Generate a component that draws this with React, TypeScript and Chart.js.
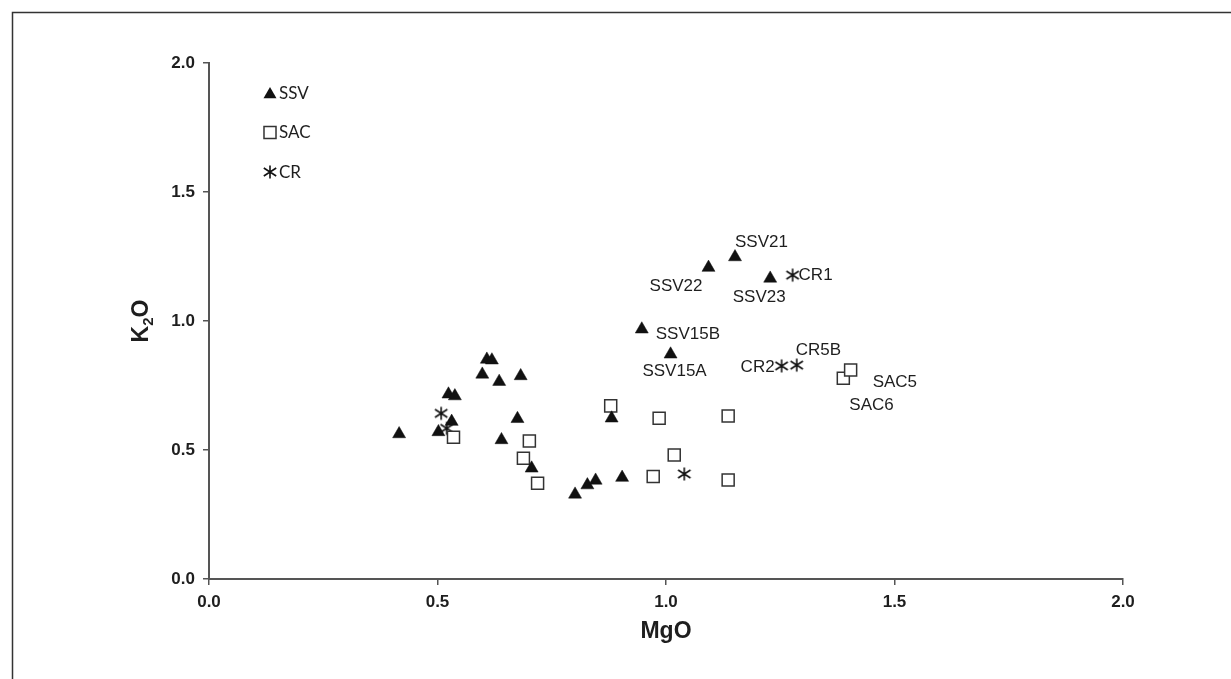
import React, { useEffect, useRef } from 'react';
import { Chart, registerables } from 'chart.js';

Chart.register(...registerables);

// ---------- data ----------
const xTickValues = [0, 0.5, 1.0, 1.5, 2.0];
const yTickValues = [0, 0.5, 1.0, 1.5, 2.0];
const seriesNames = ['SSV', 'SAC', 'CR'];
const xTitle = 'MgO';
const yTitleMain = 'K';
const yTitleSub = '2';
const yTitleEnd = 'O';

const ssvMgO = [0.416, 0.502, 0.524, 0.531, 0.538, 0.598, 0.608, 0.619, 0.635, 0.640, 0.675, 0.682, 0.706, 0.801, 0.828, 0.846, 0.881, 0.904, 0.947, 1.010, 1.093, 1.151, 1.228];
const ssvK2O = [0.562, 0.570, 0.716, 0.610, 0.709, 0.793, 0.851, 0.848, 0.765, 0.539, 0.621, 0.787, 0.429, 0.328, 0.364, 0.382, 0.623, 0.393, 0.968, 0.871, 1.207, 1.248, 1.165];
const ssvNames = ['', '', '', '', '', '', '', '', '', '', '', '', '', '', '', '', '', '', 'SSV15B', 'SSV15A', 'SSV22', 'SSV21', 'SSV23'];

const sacMgO = [0.535, 0.688, 0.701, 0.719, 0.879, 0.972, 0.985, 1.018, 1.136, 1.136, 1.388, 1.404];
const sacK2O = [0.549, 0.468, 0.535, 0.371, 0.671, 0.397, 0.623, 0.481, 0.632, 0.384, 0.778, 0.810];
const sacNames = ['', '', '', '', '', '', '', '', '', '', 'SAC6', 'SAC5'];

const crMgO = [0.508, 0.520, 1.040, 1.253, 1.286, 1.277];
const crK2O = [0.642, 0.584, 0.407, 0.826, 0.829, 1.178];
const crNames = ['', '', '', 'CR2', 'CR5B', 'CR1'];

// ---------- styles ----------
const LABEL_STYLE: Record<string, { dx: number; dy: number; align: CanvasTextAlign }> = {
  SSV21: { dx: 0, dy: -15, align: 'left' },
  SSV22: { dx: -6, dy: 19, align: 'right' },
  SSV23: { dx: -11, dy: 19, align: 'center' },
  SSV15B: { dx: 14, dy: 5, align: 'left' },
  SSV15A: { dx: 4, dy: 17, align: 'center' },
  CR1: { dx: 6, dy: 0, align: 'left' },
  CR2: { dx: -7, dy: 1, align: 'right' },
  CR5B: { dx: -1, dy: -15, align: 'left' },
  SAC5: { dx: 22, dy: 12, align: 'left' },
  SAC6: { dx: 6, dy: 27, align: 'left' },
};

const TEXT_COLOR = '#1e1e1e';
const AXIS_COLOR = '#555555';
const TRI_R = 7.5;
const RECT_R = 8.5;

function makeAsterisk(): HTMLCanvasElement {
  const c = document.createElement('canvas');
  c.width = 16;
  c.height = 16;
  const g = c.getContext('2d')!;
  g.strokeStyle = '#111';
  g.lineWidth = 1.6;
  g.lineCap = 'butt';
  g.beginPath();
  g.moveTo(8, 1.5);
  g.lineTo(8, 14.5);
  g.moveTo(1.8, 4);
  g.lineTo(14.2, 12);
  g.moveTo(1.8, 12);
  g.lineTo(14.2, 4);
  g.stroke();
  return c;
}

function toPoints(xs: number[], ys: number[]) {
  return xs.map((x, i) => ({ x, y: ys[i] }));
}

function drawTri(ctx: CanvasRenderingContext2D, x: number, y: number, r: number) {
  ctx.beginPath();
  for (let k = 0; k < 3; k++) {
    const a = (k * 2 * Math.PI) / 3;
    const px = x + Math.sin(a) * r;
    const py = y - Math.cos(a) * r;
    if (k === 0) ctx.moveTo(px, py);
    else ctx.lineTo(px, py);
  }
  ctx.closePath();
  ctx.fillStyle = '#111';
  ctx.fill();
}

function drawSq(ctx: CanvasRenderingContext2D, x: number, y: number, r: number) {
  const s = Math.SQRT1_2 * r;
  ctx.beginPath();
  ctx.rect(x - s, y - s, 2 * s, 2 * s);
  ctx.fillStyle = '#fff';
  ctx.fill();
  ctx.lineWidth = 1.5;
  ctx.strokeStyle = '#333';
  ctx.stroke();
}

export default function App() {
  const ref = useRef<HTMLCanvasElement | null>(null);

  useEffect(() => {
    if (!ref.current) return;
    const asterisk = makeAsterisk();
    const names = [ssvNames, sacNames, crNames];

    const overlay = {
      id: 'overlay',
      afterDraw(chart: any) {
        const ctx: CanvasRenderingContext2D = chart.ctx;
        const area = chart.chartArea;
        ctx.save();

        // outer frame
        ctx.strokeStyle = '#333';
        ctx.lineWidth = 1.5;
        ctx.beginPath();
        ctx.moveTo(12.5, 679);
        ctx.lineTo(12.5, 12.5);
        ctx.lineTo(1231, 12.5);
        ctx.stroke();

        // point labels
        ctx.font = '17px "Liberation Sans", Arial, sans-serif';
        ctx.fillStyle = TEXT_COLOR;
        ctx.textBaseline = 'middle';
        names.forEach((arr, di) => {
          const meta = chart.getDatasetMeta(di);
          arr.forEach((nm, i) => {
            if (!nm) return;
            const el = meta.data[i];
            const st = LABEL_STYLE[nm] || { dx: 6, dy: 0, align: 'left' };
            ctx.textAlign = st.align;
            ctx.fillText(nm, el.x + st.dx, el.y + st.dy);
          });
        });

        // legend
        const lx = area.left + 61;
        const ly0 = area.top + 30;
        const step = 39.5;
        ctx.font = '17px Lato, "Open Sans", sans-serif';
        ctx.textAlign = 'left';
        seriesNames.forEach((nm, i) => {
          const y = ly0 + i * step;
          if (i === 0) drawTri(ctx, lx, y + 1.5, TRI_R);
          else if (i === 1) drawSq(ctx, lx, y, RECT_R);
          else ctx.drawImage(asterisk, lx - 8, y - 8);
          ctx.fillStyle = TEXT_COLOR;
          ctx.fillText(nm, lx + 9, y + 0.5);
        });

        // x title
        ctx.font = 'bold 23px "Liberation Sans", Arial, sans-serif';
        ctx.textAlign = 'center';
        ctx.fillStyle = TEXT_COLOR;
        ctx.fillText(xTitle, (area.left + area.right) / 2, 632);

        // y title with subscript
        ctx.translate(140, (area.top + area.bottom) / 2);
        ctx.rotate(-Math.PI / 2);
        const big = 'bold 23px "Liberation Sans", Arial, sans-serif';
        const small = 'bold 15px "Liberation Sans", Arial, sans-serif';
        ctx.font = big;
        const wK = ctx.measureText(yTitleMain).width;
        const wO = ctx.measureText(yTitleEnd).width;
        ctx.font = small;
        const w2 = ctx.measureText(yTitleSub).width;
        const total = wK + w2 + wO;
        let cx = -total / 2;
        ctx.textAlign = 'left';
        ctx.textBaseline = 'alphabetic';
        ctx.font = big;
        ctx.fillText(yTitleMain, cx, 8);
        cx += wK;
        ctx.font = small;
        ctx.fillText(yTitleSub, cx, 13);
        cx += w2;
        ctx.font = big;
        ctx.fillText(yTitleEnd, cx, 8);

        ctx.restore();
      },
    };

    const tickFont = { family: '"Liberation Sans", Arial, sans-serif', size: 17, weight: 'bold' as const };

    const chart = new Chart(ref.current, {
      type: 'scatter',
      data: {
        datasets: [
          {
            label: seriesNames[0],
            data: toPoints(ssvMgO, ssvK2O),
            pointStyle: 'triangle',
            pointRadius: TRI_R,
            backgroundColor: '#111',
            borderColor: '#111',
            borderWidth: 0.5,
          },
          {
            label: seriesNames[1],
            data: toPoints(sacMgO, sacK2O),
            pointStyle: 'rect',
            pointRadius: RECT_R,
            backgroundColor: '#fff',
            borderColor: '#333',
            borderWidth: 1.5,
          },
          {
            label: seriesNames[2],
            data: toPoints(crMgO, crK2O),
            pointStyle: asterisk as any,
            pointRadius: 7,
            backgroundColor: '#222',
            borderColor: '#222',
          },
        ],
      },
      options: {
        animation: false,
        responsive: false,
        events: [],
        layout: { padding: { left: 0, top: 63, right: 108, bottom: 0 } },
        plugins: { legend: { display: false }, tooltip: { enabled: false } },
        scales: {
          x: {
            type: 'linear',
            min: 0,
            max: 2,
            afterBuildTicks: (s: any) => {
              s.ticks = xTickValues.map((v) => ({ value: v }));
            },
            afterFit: (s: any) => {
              s.height = 100;
            },
            ticks: {
              callback: (v: any) => Number(v).toFixed(1),
              font: tickFont,
              color: TEXT_COLOR,
              padding: 7,
              maxRotation: 0,
            },
            grid: { display: true, drawOnChartArea: false, drawTicks: true, tickLength: 6, color: AXIS_COLOR, lineWidth: 1.5 },
            border: { display: true, color: AXIS_COLOR, width: 2 },
            title: { display: false },
          },
          y: {
            type: 'linear',
            min: 0,
            max: 2,
            afterBuildTicks: (s: any) => {
              s.ticks = yTickValues.map((v) => ({ value: v }));
            },
            afterFit: (s: any) => {
              s.width = 209;
            },
            ticks: {
              callback: (v: any) => Number(v).toFixed(1),
              font: tickFont,
              color: TEXT_COLOR,
              padding: 8,
            },
            grid: { display: true, drawOnChartArea: false, drawTicks: true, tickLength: 6, color: AXIS_COLOR, lineWidth: 1.5 },
            border: { display: true, color: AXIS_COLOR, width: 2 },
            title: { display: false },
          },
        },
      },
      plugins: [overlay],
    });

    return () => chart.destroy();
  }, []);

  return (
    <div style={{ position: 'absolute', left: 0, top: 0, width: 1231, height: 679, background: '#fff' }}>
      <canvas ref={ref} width={1231} height={679} style={{ display: 'block' }} />
    </div>
  );
}
